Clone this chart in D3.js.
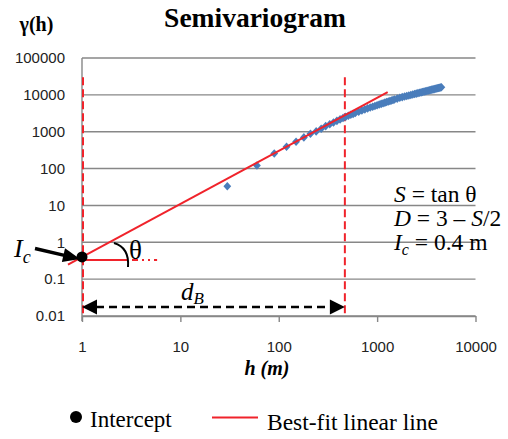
<!DOCTYPE html>
<html>
<head>
<meta charset="utf-8">
<script src="https://cdn.jsdelivr.net/npm/d3@7"></script>
<style>
  html, body { margin: 0; padding: 0; background: #fff; }
  svg { display: block; }
  .serif { font-family: "Liberation Serif", "Times New Roman", serif; }
  .tick text { font-family: "Liberation Sans", Arial, sans-serif; font-size: 15px; fill: #222; }
</style>
</head>
<body>
<svg id="chart" width="508" height="439"></svg>
<script>
// Lag distances h (m) and semivariance values γ(h)
const lagH = [
  30, 60, 90, 120, 150, 180, 210, 240, 270, 300,
  330, 360, 390, 420, 450, 480, 510, 540, 570, 600,
  650, 700, 750, 800, 850, 900, 950, 1000, 1050, 1100,
  1150, 1200, 1250, 1300, 1350, 1400, 1450, 1500, 1600, 1700,
  1800, 1900, 2000, 2100, 2200, 2300, 2400, 2500, 2600, 2700,
  2800, 2900, 3000, 3100, 3200, 3300, 3400, 3500, 3600, 3700,
  3800, 3900, 4000, 4100, 4200, 4300, 4400, 4500
];
const gammaVals = [
  33, 121, 257, 391, 535, 700, 883, 1019, 1207, 1420,
  1600, 1783, 1971, 2161, 2357, 2544, 2710, 2876, 3043, 3210,
  3487, 3767, 4047, 4305, 4540, 4775, 5007, 5238, 5468, 5697,
  5925, 6152, 6377, 6599, 6823, 7045, 7265, 7486, 7922, 8356,
  8689, 9007, 9322, 9632, 9938, 10240, 10530, 10820, 11110, 11400,
  11680, 11960, 12240, 12510, 12780, 13040, 13310, 13570, 13830, 14080,
  14340, 14590, 14840, 15080, 15330, 15570, 15820, 16060
];

// Axis ticks
const xTicks = [1, 10, 100, 1000, 10000];
const yTicks = [0.01, 0.1, 1, 10, 100, 1000, 10000, 100000];

// Fitted power-law line: γ = Ic · h^S
const interceptIc = 0.4;
const fitSlope = 1.44;
const fitRangeH = [0.72, 1280];
const breakDistance = 470;   // d_B
const markerTopGamma = 30000;

const svg = d3.select("#chart");
const x = d3.scaleLog().domain([1, 10000]).range([82, 475.5]);
const y = d3.scaleLog().domain([0.01, 100000]).range([316, 58]);

const grey = "#878787";
const red = "#f0232b";
const blue = "#4a7dbb";

// Horizontal gridlines
svg.append("g").selectAll("line").data(yTicks).join("line")
  .attr("x1", x(1)).attr("x2", x(10000))
  .attr("y1", d => y(d)).attr("y2", d => y(d))
  .attr("stroke", grey).attr("stroke-width", 1.4);

// Left axis line
svg.append("line")
  .attr("x1", x(1)).attr("x2", x(1))
  .attr("y1", y(100000)).attr("y2", y(0.01) + 5)
  .attr("stroke", grey).attr("stroke-width", 1.4);

// Y axis labels
const yAxis = d3.axisLeft(y).tickValues(yTicks).tickSize(0).tickPadding(17)
  .tickFormat(d => d >= 1 ? d3.format("d")(d) : String(d));
const gy = svg.append("g").attr("transform", `translate(${x(1)},0)`).call(yAxis);
gy.select(".domain").remove();

// X axis with ticks
const xAxis = d3.axisBottom(x).tickValues(xTicks).tickSize(6).tickSizeOuter(0).tickPadding(19)
  .tickFormat(d3.format("d"));
const gx = svg.append("g").attr("transform", `translate(0,${y(0.01)})`).call(xAxis);
gx.select(".domain").attr("stroke", grey).attr("stroke-width", 1.4);
gx.selectAll(".tick line").attr("stroke", grey).attr("stroke-width", 1.4);

// Vertical dashed markers at h = 1 and h = d_B
svg.append("g").selectAll("line").data([1, breakDistance]).join("line")
  .attr("x1", d => x(d) + (d === 1 ? 1 : 0)).attr("x2", d => x(d) + (d === 1 ? 1 : 0))
  .attr("y1", y(markerTopGamma)).attr("y2", y(0.01))
  .attr("stroke", red).attr("stroke-width", 2)
  .attr("stroke-dasharray", "8,4");

// Semivariogram points (diamonds)
const pts = lagH.map((h, i) => [h, gammaVals[i]]);
svg.append("g").selectAll("path").data(pts).join("path")
  .attr("transform", d => `translate(${x(d[0])},${y(d[1])})`)
  .attr("d", "M0,-4.3L3.9,0L0,4.3L-3.9,0Z")
  .attr("fill", blue);

// Best-fit line
const fitLine = d3.line().x(d => x(d)).y(d => y(interceptIc * Math.pow(d, fitSlope)));
svg.append("path").datum(fitRangeH)
  .attr("d", fitLine)
  .attr("fill", "none").attr("stroke", red).attr("stroke-width", 2);

// Horizontal reference from the intercept (dash-dot)
const icX = x(1), icY = y(interceptIc);
svg.append("line")
  .attr("x1", icX).attr("x2", x(5.8))
  .attr("y1", icY + 3).attr("y2", icY + 3)
  .attr("stroke", red).attr("stroke-width", 2)
  .attr("stroke-dasharray", "46,4,6,4,2,4,2,4");

// Angle arc θ
svg.append("path")
  .attr("d", `M${icX + 32},${icY - 14} C${icX + 42},${icY - 11} ${icX + 47},${icY - 3} ${icX + 46},${icY + 10}`)
  .attr("fill", "none").attr("stroke", "#000").attr("stroke-width", 2);
svg.append("text").attr("class", "serif")
  .attr("x", icX + 47).attr("y", icY + 2)
  .attr("font-size", 27).text("θ");

// Intercept dot
svg.append("circle").attr("cx", icX).attr("cy", icY).attr("r", 5.5).attr("fill", "#000");

// Arrow helper: shaft from (x0,y0) to tip (x1,y1)
function arrow(x0, y0, x1, y1, len, half, width) {
  const dx = x1 - x0, dy = y1 - y0, L = Math.hypot(dx, dy);
  const ux = dx / L, uy = dy / L;
  const bx = x1 - ux * len, by = y1 - uy * len;
  svg.append("line").attr("x1", x0).attr("y1", y0).attr("x2", bx + ux).attr("y2", by + uy)
    .attr("stroke", "#000").attr("stroke-width", width);
  svg.append("path")
    .attr("d", `M${x1},${y1}L${bx - uy * half},${by + ux * half}L${bx + uy * half},${by - ux * half}Z`)
    .attr("fill", "#000");
}

// I_c label and arrow
arrow(35, 248.5, icX - 2, icY + 2, 17, 7, 3.4);
const icLabel = svg.append("text").attr("class", "serif")
  .attr("x", 14).attr("y", 257).attr("font-size", 26).attr("font-style", "italic");
icLabel.append("tspan").text("I");
icLabel.append("tspan").attr("font-size", 18).attr("dy", 6).text("c");

// d_B double arrow
const dbY = y(0.01) - 9;
svg.append("line")
  .attr("x1", x(1) + 14).attr("x2", x(breakDistance) - 14)
  .attr("y1", dbY).attr("y2", dbY)
  .attr("stroke", "#000").attr("stroke-width", 2.6).attr("stroke-dasharray", "8,5");
svg.append("path")
  .attr("d", `M${x(1)},${dbY}L${x(1) + 15},${dbY - 7.5}L${x(1) + 15},${dbY + 7.5}Z`).attr("fill", "#000");
svg.append("path")
  .attr("d", `M${x(breakDistance)},${dbY}L${x(breakDistance) - 15},${dbY - 7.5}L${x(breakDistance) - 15},${dbY + 7.5}Z`).attr("fill", "#000");
const dbLabel = svg.append("text").attr("class", "serif")
  .attr("x", 181).attr("y", 300).attr("font-size", 25).attr("font-style", "italic");
dbLabel.append("tspan").text("d");
dbLabel.append("tspan").attr("font-size", 17).attr("dy", 4).text("B");

// Equations
const eqX = 394;
const eq1 = svg.append("text").attr("class", "serif").attr("x", eqX).attr("y", 202).attr("font-size", 23.5);
eq1.append("tspan").attr("font-style", "italic").text("S");
eq1.append("tspan").text(" = tan θ");
const eq2 = svg.append("text").attr("class", "serif").attr("x", eqX).attr("y", 226).attr("font-size", 23.5);
eq2.append("tspan").attr("font-style", "italic").text("D");
eq2.append("tspan").text(" = 3 – ");
eq2.append("tspan").attr("font-style", "italic").text("S");
eq2.append("tspan").text("/2");
const eq3 = svg.append("text").attr("class", "serif").attr("x", eqX).attr("y", 250).attr("font-size", 23.5);
eq3.append("tspan").attr("font-style", "italic").text("I");
eq3.append("tspan").attr("font-style", "italic").attr("font-size", 16).attr("dy", 5).text("c");
eq3.append("tspan").attr("dy", -5).text(" = 0.4 m");

// Titles
svg.append("text").attr("class", "serif")
  .attr("x", 255).attr("y", 27).attr("text-anchor", "middle")
  .attr("font-size", 27.5).attr("font-weight", "bold").text("Semivariogram");
svg.append("text").attr("class", "serif")
  .attr("x", 36.5).attr("y", 31).attr("text-anchor", "middle")
  .attr("font-size", 20).attr("font-weight", "bold").text("γ(h)");
svg.append("text").attr("class", "serif")
  .attr("x", 267).attr("y", 375).attr("text-anchor", "middle")
  .attr("font-size", 20).attr("font-weight", "bold").attr("font-style", "italic").text("h (m)");

// Legend
svg.append("circle").attr("cx", 76).attr("cy", 417).attr("r", 6).attr("fill", "#000");
svg.append("text").attr("class", "serif").attr("x", 90).attr("y", 427).attr("font-size", 23).text("Intercept");
svg.append("line").attr("x1", 212).attr("x2", 258).attr("y1", 417.5).attr("y2", 417.5)
  .attr("stroke", red).attr("stroke-width", 2);
svg.append("text").attr("class", "serif").attr("x", 267).attr("y", 430).attr("font-size", 23.5).text("Best-fit linear line");
</script>
</body>
</html>
